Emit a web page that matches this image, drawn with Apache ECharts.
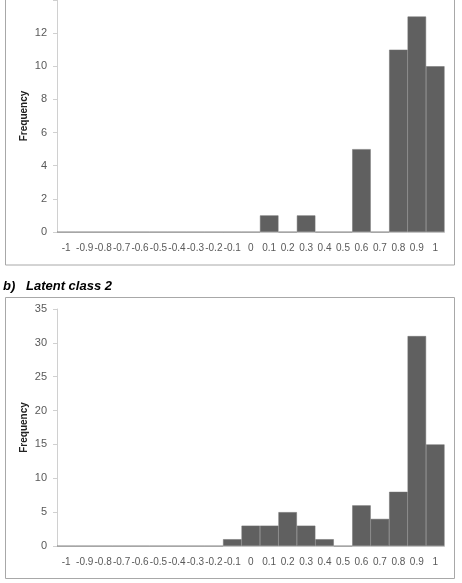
<!DOCTYPE html>
<html>
<head>
<meta charset="utf-8">
<script src="https://cdn.jsdelivr.net/npm/echarts@6/dist/echarts.min.js"></script>
<style>
  html, body { margin: 0; padding: 0; background: #fff; }
  #chart { width: 462px; height: 583px; }
</style>
</head>
<body>
<div id="chart"></div>
<script>
// histogram bins (-1 .. 1 step 0.1)
const bins = ['-1', '-0.9', '-0.8', '-0.7', '-0.6', '-0.5', '-0.4', '-0.3', '-0.2', '-0.1',
  '0', '0.1', '0.2', '0.3', '0.4', '0.5', '0.6', '0.7', '0.8', '0.9', '1']
const class1 = [0, 0, 0, 0, 0, 0, 0, 0, 0, 0, 0, 1, 0, 1, 0, 0, 5, 0, 11, 13, 10]
const class2 = [0, 0, 0, 0, 0, 0, 0, 0, 0, 1, 3, 3, 5, 3, 1, 0, 6, 4, 8, 31, 15]
const yMax1 = 14
const yStep1 = 2
const yMax2 = 35
const yStep2 = 5

const font = 'Liberation Sans, Arial, sans-serif'
const labelColor = '#595959'
const barColor = '#606060'

const chart = echarts.init(document.getElementById('chart'))

const xAxisCfg = (gridIndex) => ({
  type: 'category',
  gridIndex,
  data: bins,
  axisLine: { show: true, lineStyle: { color: '#d0d0d0', width: 1 } },
  axisTick: { show: false },
  axisLabel: { interval: 0, color: labelColor, fontSize: 10, fontFamily: font, margin: 11 }
})

const yAxisCfg = (gridIndex, max, step) => ({
  type: 'value',
  gridIndex,
  min: 0,
  max,
  interval: step,
  name: 'Frequency',
  nameLocation: 'middle',
  nameGap: 28,
  nameMoveOverlap: false,
  nameTextStyle: { fontWeight: 'bold', fontSize: 10, color: '#222', fontFamily: font },
  splitLine: { show: false },
  axisLine: { show: true, lineStyle: { color: '#d0d0d0' } },
  axisTick: { show: true, length: 4, lineStyle: { color: '#d0d0d0' } },
  axisLabel: {
    color: labelColor, fontSize: 11, fontFamily: font, margin: 10,
    // top chart is cropped at 14, so its label is not shown
    formatter: (v) => (v >= max && max === yMax1 ? '' : v)
  }
})

const option = {
  animation: false,
  backgroundColor: '#fff',
  grid: [
    { left: 57, top: -5, width: 387.5, height: 237 },
    { left: 57, top: 309, width: 387.5, height: 237 }
  ],
  xAxis: [xAxisCfg(0), xAxisCfg(1)],
  yAxis: [yAxisCfg(0, yMax1, yStep1), yAxisCfg(1, yMax2, yStep2)],
  graphic: [
    {
      type: 'rect', silent: true, z: -1,
      shape: { x: 5.5, y: -5, width: 449, height: 270 },
      style: { fill: 'none', stroke: '#a8a8a8', lineWidth: 1 }
    },
    {
      type: 'rect', silent: true, z: -1,
      shape: { x: 5.5, y: 297.5, width: 449, height: 281 },
      style: { fill: 'none', stroke: '#a8a8a8', lineWidth: 1 }
    },
    {
      type: 'text', left: 3, top: 280,
      style: { text: 'b)', font: 'italic bold 13px ' + font, fill: '#000' }
    },
    {
      type: 'text', left: 26, top: 280,
      style: { text: 'Latent class 2', font: 'italic bold 13px ' + font, fill: '#000' }
    }
  ],
  series: [
    {
      type: 'bar',
      xAxisIndex: 0,
      yAxisIndex: 0,
      data: class1,
      barCategoryGap: '0%',
      itemStyle: { color: barColor, borderColor: '#707070', borderWidth: 0.5 }
    },
    {
      type: 'bar',
      xAxisIndex: 1,
      yAxisIndex: 1,
      data: class2,
      barCategoryGap: '0%',
      itemStyle: { color: barColor, borderColor: '#707070', borderWidth: 0.5 }
    }
  ]
}

chart && chart.setOption(option)
</script>
</body>
</html>
